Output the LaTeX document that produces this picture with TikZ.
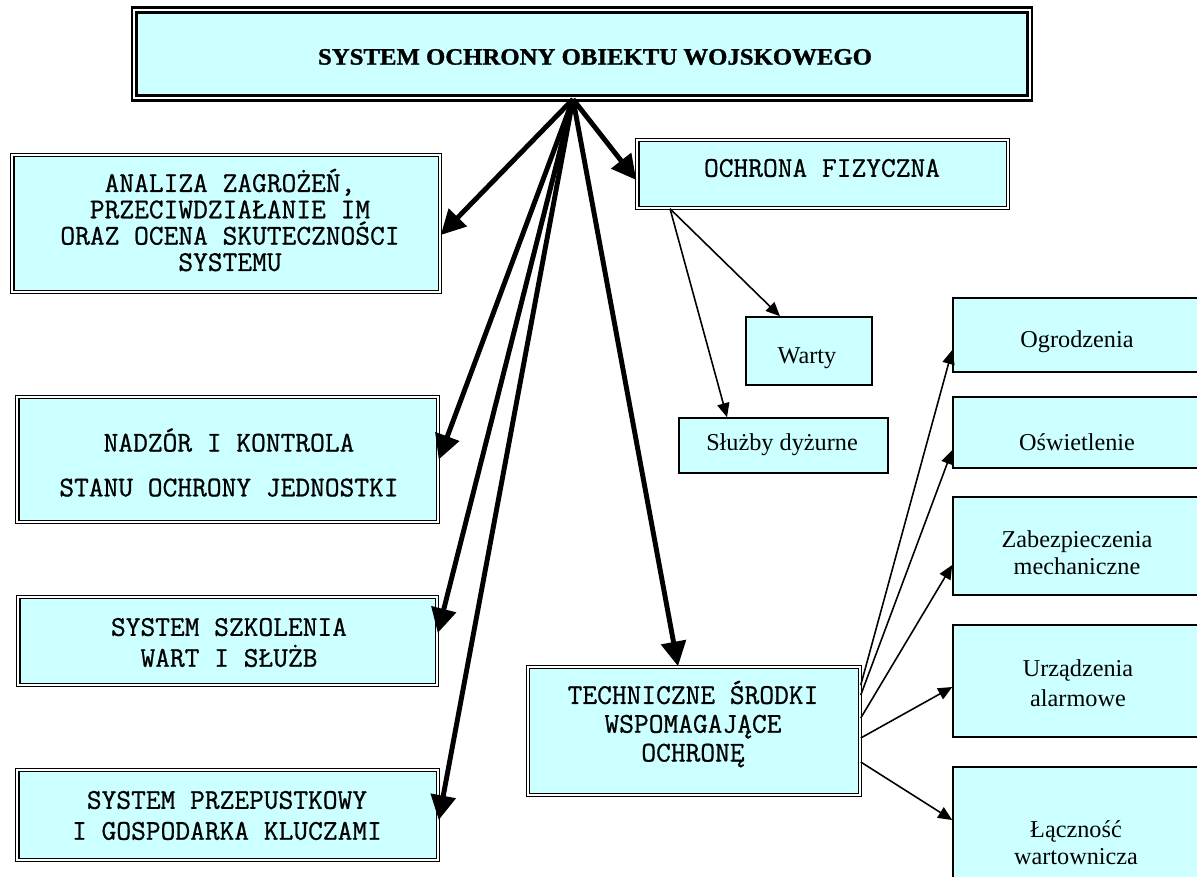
\documentclass[tikz,border=0pt]{standalone}
\usepackage{fontspec}
\setmainfont{Liberation Serif}
\newfontfamily\capsfont{Latin Modern Mono}[FakeBold=0.8]
\newfontfamily\titlefont{Liberation Serif}[FakeBold=1.2]
\usetikzlibrary{arrows.meta}
\definecolor{boxcyan}{RGB}{204,255,255}
\newcommand\capsz[1]{\capsfont\fontsize{16.3pt}{#1}\selectfont}
\newcommand\lowsz[1]{\rmfamily\fontsize{13.8pt}{#1}\selectfont}
\begin{document}
\begin{tikzpicture}[x=0.02cm,y=-0.02cm,
  dbox/.style={draw=black, double=white, double distance=1pt, line width=0.9pt, fill=boxcyan, inner sep=0pt},
  sbox/.style={draw=black, line width=0.9pt, fill=boxcyan, inner sep=0pt},
  captext/.style={inner sep=0pt, align=center, text=black},
  bigarrow/.style={line width=2.8pt, -{Triangle[length=14pt,width=14pt]}},
  smallarrow/.style={line width=0.9pt, -{Triangle[length=8pt,width=7pt]}}]
\useasboundingbox (0,0) rectangle (1197,876);
\clip (0,0) rectangle (1197,876);
\fill[white] (0,0) rectangle (1197,876);

% boxes
\node[dbox, line width=1.4pt, double distance=1.2pt, minimum width=17.92cm, minimum height=1.76cm] (top) at (582,54) {};
\node[dbox, minimum width=8.56cm, minimum height=2.74cm] (ana) at (226,223.5) {};
\node[dbox, minimum width=8.42cm, minimum height=2.5cm] (nad) at (227.5,459.5) {};
\node[dbox, minimum width=8.38cm, minimum height=1.76cm] (szk) at (227.5,641) {};
\node[dbox, minimum width=8.42cm, minimum height=1.8cm] (prz) at (227.5,815) {};
\node[dbox, minimum width=7.42cm, minimum height=1.36cm] (och) at (822.5,174) {};
\node[dbox, minimum width=6.64cm, minimum height=2.56cm] (tech) at (694,731) {};
\node[sbox, minimum width=2.52cm, minimum height=1.36cm] (war) at (809,351) {};
\node[sbox, minimum width=4.18cm, minimum height=1.1cm] (slu) at (783.5,445.5) {};
\node[sbox, minimum width=5.0cm, minimum height=1.48cm] (ogr) at (1078,335) {};
\node[sbox, minimum width=5.0cm, minimum height=1.42cm] (osw) at (1078,432.5) {};
\node[sbox, minimum width=5.0cm, minimum height=1.96cm] (zab) at (1078,546) {};
\node[sbox, minimum width=5.0cm, minimum height=2.24cm] (urz) at (1078,681) {};
\node[sbox, minimum width=5.0cm, minimum height=3.06cm] (lac) at (1078,843.5) {};

% texts
\node[captext] (topT) at (595,57) {\resizebox{11.08cm}{0.31cm}{\titlefont\bfseries SYSTEM OCHRONY OBIEKTU WOJSKOWEGO}};
\node[captext, font=\capsz{15pt}] (anaT) at (230,220) {ANALIZA ZAGROŻEŃ,\\PRZECIWDZIAŁANIE IM\\ORAZ OCENA SKUTECZNOŚCI\\SYSTEMU};
\node[captext, font=\capsz{25.5pt}] (nadT) at (229,462.5) {NADZÓR I KONTROLA\\STANU OCHRONY JEDNOSTKI};
\node[captext, font=\capsz{17.6pt}] (szkT) at (229,642.5) {SYSTEM SZKOLENIA\\WART I SŁUŻB};
\node[captext, font=\capsz{17.6pt}] (przT) at (227,815.5) {SYSTEM PRZEPUSTKOWY\\I GOSPODARKA KLUCZAMI};
\node[captext, font=\capsz{17.6pt}] (ochT) at (822,168) {OCHRONA FIZYCZNA};
\node[captext, font=\capsz{16.4pt}] (techT) at (693,724) {TECHNICZNE ŚRODKI\\WSPOMAGAJĄCE\\OCHRONĘ};
\node[captext, font=\lowsz{16pt}] (warT) at (807,358) {Warty};
\node[captext, font=\lowsz{16pt}] (sluT) at (782,445) {Służby dyżurne};
\node[captext, font=\lowsz{16pt}] (ogrT) at (1077,342) {Ogrodzenia};
\node[captext, font=\lowsz{16pt}] (oswT) at (1077,442) {Oświetlenie};
\node[captext, font=\lowsz{15.3pt}] (zabT) at (1077,553) {Zabezpieczenia\\mechaniczne};
\node[captext, font=\lowsz{17pt}] (urzT) at (1078,683) {Urządzenia\\alarmowe};
\node[captext, font=\lowsz{15.3pt}] (lacT) at (1076,843) {Łączność\\wartownicza};

% thick arrows
\draw[bigarrow] ([xshift=-0.18cm]top.south) -- ([yshift=-0.23cm]ana.east);
\draw[bigarrow] ([xshift=-0.18cm]top.south) -- (nad.east);
\draw[bigarrow] ([xshift=-0.18cm]top.south) -- ([yshift=0.16cm]szk.east);
\draw[bigarrow] ([xshift=-0.18cm]top.south) -- ([yshift=-0.1cm]prz.east);
\draw[bigarrow] ([xshift=-0.18cm]top.south) -- ([yshift=-0.12cm]och.west);
\draw[bigarrow] ([xshift=-0.18cm]top.south) -- ([xshift=-0.32cm]tech.north);

% thin arrows
\draw[smallarrow] ([xshift=-3.05cm]och.south) -- ([xshift=-0.58cm]war.north);
\draw[smallarrow] ([xshift=-3.05cm]och.south) -- ([xshift=-1.13cm]slu.north);
\draw[smallarrow] ([yshift=0.92cm]tech.east) -- ([yshift=-0.3cm]ogr.west);
\draw[smallarrow] ([yshift=0.72cm]tech.east) -- ([yshift=-0.35cm]osw.west);
\draw[smallarrow] ([yshift=0.26cm]tech.east) -- ([yshift=-0.38cm]zab.west);
\draw[smallarrow] ([yshift=-0.14cm]tech.east) -- ([yshift=-0.12cm]urz.west);
\draw[smallarrow] ([yshift=-0.62cm]tech.east) -- ([yshift=0.47cm]lac.west);
\end{tikzpicture}
\end{document}
